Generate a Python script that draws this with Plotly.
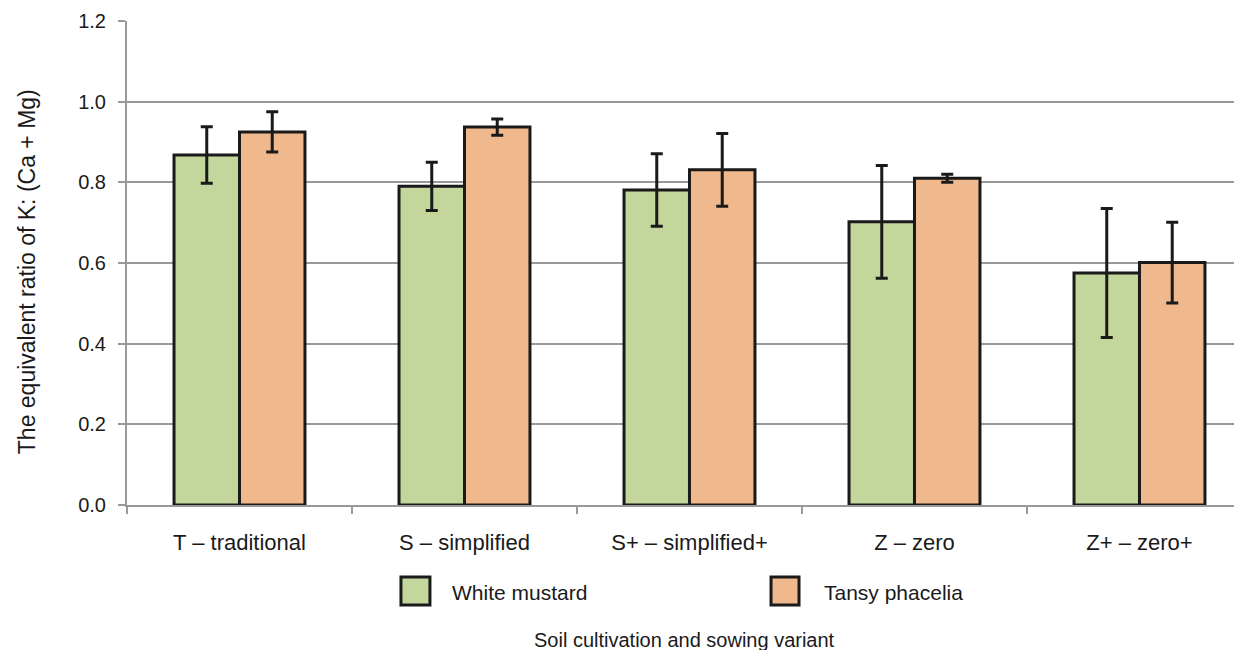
import plotly.graph_objects as go

categories = ["T – traditional", "S – simplified", "S+ – simplified+", "Z – zero", "Z+ – zero+"]
mustard = [0.868, 0.790, 0.781, 0.702, 0.575]
mustard_err = [0.070, 0.060, 0.090, 0.140, 0.160]
phacelia = [0.925, 0.937, 0.831, 0.810, 0.601]
phacelia_err = [0.050, 0.020, 0.090, 0.010, 0.100]
series_names = ["White mustard", "Tansy phacelia"]
series_colors = ["#c3d69b", "#f0b98d"]

font = "Liberation Sans, Arial, sans-serif"
edge = "#1a1a1a"
grid = "#999999"

fig = go.Figure()
for name, vals, errs, col in zip(series_names, [mustard, phacelia], [mustard_err, phacelia_err], series_colors):
    fig.add_trace(go.Bar(
        name=name, x=categories, y=vals, showlegend=False,
        marker=dict(color=col, line=dict(color=edge, width=3)),
        error_y=dict(type="data", array=errs, color=edge, thickness=3, width=6),
    ))

# page body has an 8px default margin; the figure is sized to fill the rest of the window
fig.update_layout(
    width=1234, height=642,
    margin=dict(l=119, r=0, t=13, b=145),
    paper_bgcolor="white", plot_bgcolor="white",
    barmode="group", bargap=0.418, bargroupgap=0,
    font=dict(family=font, size=20, color="#1a1a1a"),
    xaxis=dict(range=[-0.5, 4.4556], showline=True, linecolor=grid, linewidth=2,
               ticks="outside", tickson="boundaries", ticklen=7, tickcolor=grid, tickwidth=2,
               showgrid=False, tickfont=dict(size=22), ticklabelstandoff=17),
    yaxis=dict(range=[0, 1.2], dtick=0.2, tickformat=".1f",
               showline=True, linecolor=grid, linewidth=2,
               ticks="outside", ticklen=7, tickcolor=grid, tickwidth=2,
               showgrid=True, gridcolor=grid, gridwidth=2,
               zeroline=False, tickfont=dict(size=20), ticklabelstandoff=8),
)

# legend drawn below the plot (larger square swatches as in the reference)
legend_boxes = [(0.2457, 0.2717), (0.5776, 0.6027)]
legend_text_x = [0.2897, 0.6233]
for (x0, x1), tx, name, col in zip(legend_boxes, legend_text_x, series_names, series_colors):
    fig.add_shape(type="rect", xref="paper", yref="paper", x0=x0, x1=x1, y0=-0.2066, y1=-0.1488,
                  fillcolor=col, line=dict(color=edge, width=3))
    fig.add_annotation(text=name, xref="paper", yref="paper", x=tx, y=-0.1800,
                       xanchor="left", yanchor="middle", showarrow=False, font=dict(size=21))

fig.add_annotation(text="The equivalent ratio of K: (Ca + Mg)", xref="paper", yref="paper",
                   x=-0.0897, y=0.483, xanchor="center", yanchor="middle", textangle=-90,
                   showarrow=False, font=dict(size=23))
fig.add_annotation(text="Soil cultivation and sowing variant", xref="paper", yref="paper",
                   x=0.5, y=-0.278, xanchor="center", yanchor="middle", showarrow=False,
                   font=dict(size=20))

fig.write_html("out.html")
